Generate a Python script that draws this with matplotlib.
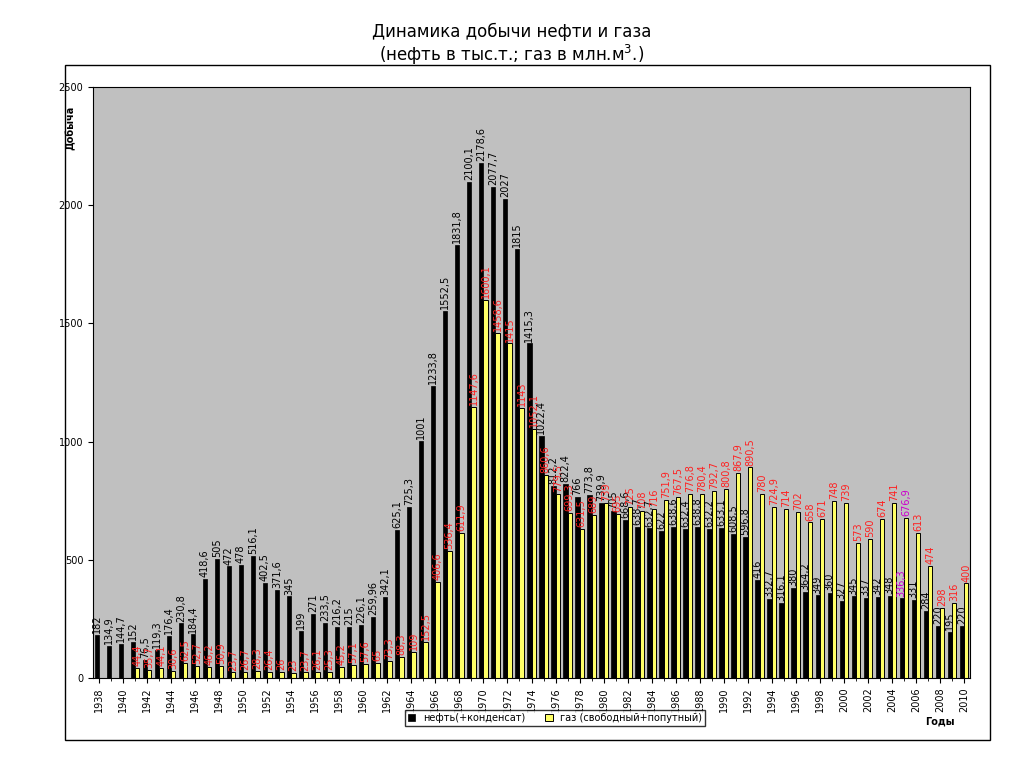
import matplotlib
matplotlib.use("Agg")
import matplotlib.pyplot as plt
import numpy as np
from matplotlib.patches import Rectangle

years = list(range(1938, 2011))
oil = [182, 134.9, 144.7, 152, 76.5, 119.3, 176.4, 230.8, 184.4, 418.6, 505, 472, 478, 516.1,
       402.5, 371.6, 345, 199, 271, 233.5, 216.2, 215, 226.1, 259.96, 342.1, 625.1, 725.3, 1001,
       1233.8, 1552.5, 1831.8, 2100.1, 2178.6, 2077.7, 2027, 1815, 1415.3, 1022.4, 812.2, 822.4,
       766, 773.8, 739.9, 705, 668.6, 638.7, 632.7, 622, 638.6, 632.4, 638.8, 632.2, 633.1, 608.5,
       596.8, 416, 332.7, 316.1, 380, 364.2, 349, 360, 327, 345, 337, 342, 348, 336.3, 331, 284,
       220, 195, 220]
gas = [0, 0, 0, 44.4, 35.7, 44.1, 30.6, 62.5, 52.7, 46.2, 50.9, 23.7, 26.7, 28.3, 26.4, 26, 23,
       23.7, 26.1, 25.3, 45.2, 57.1, 57.6, 65, 73.3, 88.3, 109, 152.5, 406.6, 536.4, 611.9, 1147.6,
       1600.1, 1458.6, 1415, 1143, 1052.1, 860.6, 779.5, 699.3, 631.5, 689, 739, 695, 725, 708, 716,
       751.9, 767.5, 776.8, 780.4, 792.7, 800.8, 867.9, 890.5, 780, 724.9, 714, 702, 658, 671, 748,
       739, 573, 590, 674, 741, 676.9, 613, 474, 298, 316, 400]

def fmt(v):
    s = ("%g" % v).replace(".", ",")
    return s

fig = plt.figure(figsize=(10.24, 7.68), dpi=100)
fig.patches.append(Rectangle((65/1024, 1-740/768), 925/1024, 675/768, transform=fig.transFigure,
                             fill=False, edgecolor="black", lw=1))
ax = fig.add_axes([93/1024, 1-678/768, 877/1024, 591/768])
ax.set_facecolor("#C0C0C0")
x = np.arange(len(years))
w = 0.36
ax.bar(x - w/2, oil, w, color="black", edgecolor="black", lw=0.5, label="нефть(+конденсат)")
ax.bar(x + w/2, gas, w, color="#FFFF66", edgecolor="black", lw=0.7, label="газ (свободный+попутный)")
for i in range(len(years)):
    c1 = "#CC00CC" if years[i] == 2005 else "black"
    ax.text(x[i] - w/2, oil[i] + 8, fmt(oil[i]), rotation=90, ha="center", va="bottom", fontsize=7, color=c1)
    if gas[i] > 0:
        c2 = "#CC00CC" if years[i] == 2005 else "#FF2020"
        ax.text(x[i] + w/2, gas[i] + 8, fmt(gas[i]), rotation=90, ha="center", va="bottom", fontsize=7, color=c2)
ax.set_xlim(-0.5, len(years) - 0.5)
ax.set_ylim(0, 2500)
ax.set_yticks(range(0, 2501, 500))
ax.set_xticks(x[::2])
ax.set_xticklabels([str(y) for y in years[::2]], rotation=90, fontsize=7)
ax.set_xticks(x, minor=True)
ax.tick_params(axis="y", labelsize=7)
ax.set_ylabel("Добыча", fontsize=7, fontweight="bold")
ax.yaxis.set_label_coords(-0.02, 0.93)
fig.text(0.5, 1-32/768, "Динамика добычи нефти и газа", ha="center", va="center", fontsize=12)
fig.text(0.5, 1-55/768, "(нефть в тыс.т.; газ в млн.м$^3$.)", ha="center", va="center", fontsize=12)
fig.text(940/1024, 1-722/768, "Годы", ha="center", va="center", fontsize=7, fontweight="bold")
fig.legend(loc="center", bbox_to_anchor=(555/1024, 1-718/768), ncol=2, fontsize=7,
           frameon=True, edgecolor="black", fancybox=False, handlelength=0.8, borderpad=0.3)
fig.savefig("out.png", dpi=100)
